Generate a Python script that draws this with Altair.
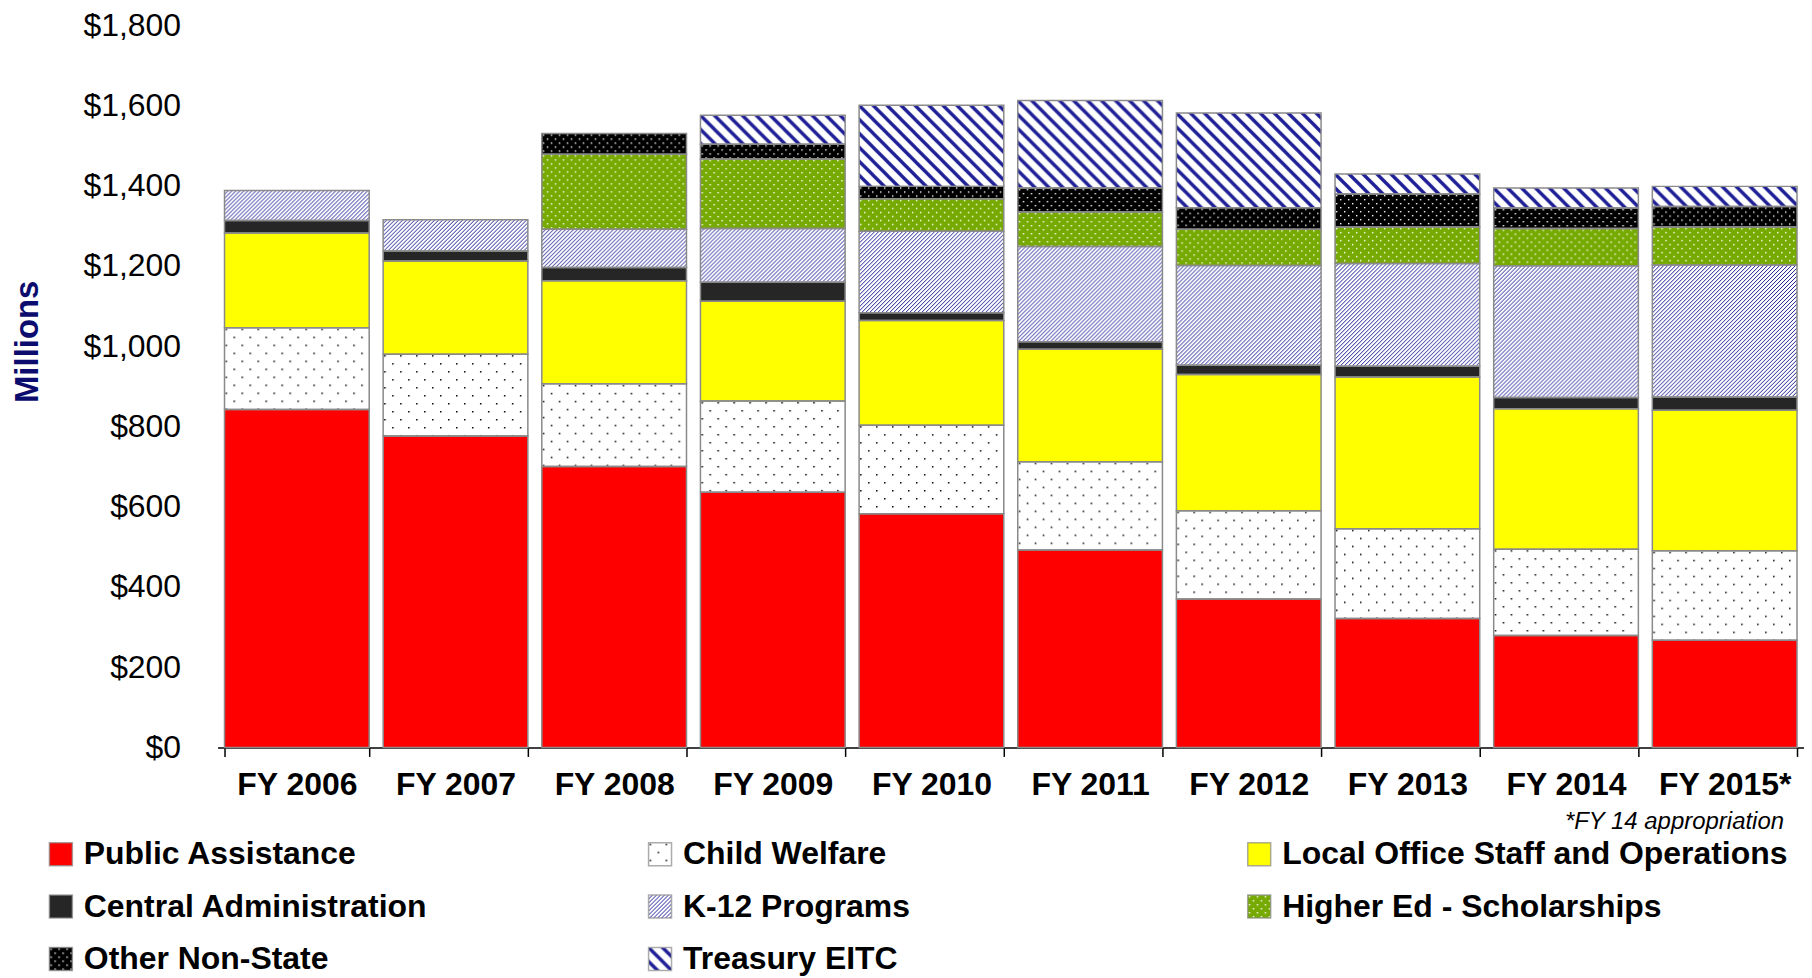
import base64
import altair as alt
import pandas as pd

# ---------------- data ----------------
YEARS = ["FY 2006", "FY 2007", "FY 2008", "FY 2009", "FY 2010",
         "FY 2011", "FY 2012", "FY 2013", "FY 2014", "FY 2015*"]

CATEGORIES = ["Public Assistance", "Child Welfare", "Local Office Staff and Operations",
              "Central Administration", "K-12 Programs", "Higher Ed - Scholarships",
              "Other Non-State", "Treasury EITC"]

PUBLIC_ASSISTANCE = [842, 776, 700, 636, 582, 492, 370, 321, 279, 267]
CHILD_WELFARE = [204, 204, 206, 227, 221, 220, 220, 224, 215, 223]
LOCAL_OFFICE = [236, 232, 257, 249, 261, 280, 339, 378, 350, 350]
CENTRAL_ADMIN = [31, 25, 33, 47, 19, 19, 23, 27, 28, 33]
K12_PROGRAMS = [75, 78, 95, 134, 203, 237, 249, 256, 328, 329]
HIGHER_ED = [0, 0, 187, 173, 81, 86, 90, 91, 93, 95]
OTHER_NON_STATE = [0, 0, 52, 37, 31, 60, 54, 82, 51, 51]
TREASURY_EITC = [0, 0, 0, 72, 202, 218, 236, 50, 50, 50]

SERIES = [PUBLIC_ASSISTANCE, CHILD_WELFARE, LOCAL_OFFICE, CENTRAL_ADMIN,
          K12_PROGRAMS, HIGHER_ED, OTHER_NON_STATE, TREASURY_EITC]

Y_TICKS = [0, 200, 400, 600, 800, 1000, 1200, 1400, 1600, 1800]
FOOTNOTE = "*FY 14 appropriation"
Y_TITLE = "Millions"

# ---------------- styles ----------------
FONT = "Liberation Sans"
NAVY = "#1E1E96"
BORDER = "#8A8A8A"
BASE_COLORS = ["#FF0000", "#FFFFFF", "#FFFF00", "#262626",
               "#FFFFFF", "#77AA00", "#000000", "#FFFFFF"]


def svg_pattern(body, w, h):
    svg = ("<svg xmlns='http://www.w3.org/2000/svg' width='100%' height='100%'>"
           f"<defs><pattern id='p' width='{w}' height='{h}' patternUnits='userSpaceOnUse'>"
           f"{body}</pattern></defs>"
           "<rect width='100%' height='100%' fill='url(#p)'/></svg>")
    return "data:image/svg+xml;base64," + base64.b64encode(svg.encode()).decode()


def dots(color, step, size):
    h = step / 2
    return svg_pattern(
        f"<rect x='1' y='1' width='{size}' height='{size}' fill='{color}'/>"
        f"<rect x='{1 + h}' y='{1 + h}' width='{size}' height='{size}' fill='{color}'/>",
        step, step)


def up_diag(color, p, sw):
    return svg_pattern(
        f"<path d='M-1,{p + 1} L{p + 1},-1 M-1,1 L1,-1 M{p - 1},{p + 1} L{p + 1},{p - 1}' "
        f"stroke='{color}' stroke-width='{sw}' fill='none' shape-rendering='crispEdges'/>", p, p)


def down_diag(color, p, sw):
    return svg_pattern(
        f"<path d='M-2,-2 L{p + 2},{p + 2} M{p - 2},-2 L{p + 2},2 M-2,{p - 2} L2,{p + 2}' "
        f"stroke='{color}' stroke-width='{sw}' fill='none'/>", p, p)


PATTERNS = {
    "Child Welfare": dots("#000000", 16, 1.5),
    "K-12 Programs": up_diag(NAVY, 4, 1),
    "Higher Ed - Scholarships": dots("#FFFFFF", 8, 1.4),
    "Other Non-State": dots("#FFFFFF", 8, 1.4),
    "Treasury EITC": down_diag(NAVY, 14, 3.4),
}

# ---------------- tables ----------------
rows = []
for ci, (cat, vals) in enumerate(zip(CATEGORIES, SERIES)):
    for yr, v in zip(YEARS, vals):
        rows.append({"year": yr, "category": cat, "order": ci, "value": v,
                     "pattern": PATTERNS.get(cat, "")})
df = pd.DataFrame(rows)

leg = pd.DataFrame({
    "category": CATEGORIES,
    "row": [i // 3 for i in range(len(CATEGORIES))],
    "col": [i % 3 for i in range(len(CATEGORIES))],
    "pattern": [PATTERNS.get(c, "") for c in CATEGORIES],
})

color_scale = alt.Scale(domain=CATEGORIES, range=BASE_COLORS)

# ---------------- main chart ----------------
x_enc = alt.X("year:N", sort=YEARS,
              scale=alt.Scale(paddingInner=0.088, paddingOuter=0.044),
              axis=alt.Axis(title=None, labelAngle=0, labelFont=FONT, labelFontSize=32,
                            labelFontWeight="bold", labelColor="black", labelPadding=13,
                            tickBand="extent", tickSize=9, tickColor="black", tickWidth=1.5,
                            domainColor="black", domainWidth=1.5))
y_enc = alt.Y("y0:Q", scale=alt.Scale(domain=[0, 1800], nice=False),
              axis=alt.Axis(title=Y_TITLE, values=Y_TICKS, format="$,.0f",
                            labelFont=FONT, labelFontSize=32, labelColor="black",
                            labelPadding=37, ticks=False, domain=False, grid=False,
                            titleFont=FONT, titleFontSize=33, titleFontWeight="bold",
                            titleColor="#0C0C6E", titlePadding=38.5, titleY=317))

base = (alt.Chart(df)
        .transform_filter("datum.value > 0")
        .transform_stack(stack="value", groupby=["year"], as_=["y0", "y1"],
                         sort=[alt.SortField("order", order="ascending")]))

fills = base.mark_bar(strokeWidth=0).encode(
    x=x_enc, y=y_enc, y2="y1:Q",
    fill=alt.Fill("category:N", scale=color_scale, legend=None))
pats = base.transform_filter("datum.pattern != ''").mark_image(aspect=False).encode(
    x=x_enc, y=y_enc, y2="y1:Q", url="pattern:N")
borders = base.mark_bar(fillOpacity=0, stroke=BORDER, strokeWidth=1.5).encode(
    x=x_enc, y=y_enc, y2="y1:Q")

main = alt.layer(fills, pats, borders).properties(
    width=1590, height=724,
    title=alt.TitleParams(FOOTNOTE, orient="bottom", anchor="end", font=FONT,
                          fontSize=24, fontStyle="italic", fontWeight="normal",
                          color="black", dx=-20, offset=10))

# ---------------- legend chart ----------------
LEG_X0, LEG_STEP = -157, 600.5
LEG_Y0, LEG_ROW = 20, 52.5

lx = alt.X("col:Q", scale=alt.Scale(domain=[0, 2], range=[LEG_X0, LEG_X0 + 2 * LEG_STEP]), axis=None)
ly = alt.Y("row:Q", scale=alt.Scale(domain=[0, 2], range=[LEG_Y0, LEG_Y0 + 2 * LEG_ROW]), axis=None)

lbase = alt.Chart(leg)
sw_fill = lbase.mark_square(size=529, opacity=1, strokeWidth=0).encode(
    x=lx, y=ly, fill=alt.Fill("category:N", scale=color_scale, legend=None))
sw_pat = lbase.transform_filter("datum.pattern != ''").mark_image(
    width=23, height=23, aspect=False).encode(x=lx, y=ly, url="pattern:N")
sw_border = lbase.mark_square(size=529, filled=False, stroke=BORDER, strokeWidth=1.5).encode(
    x=lx, y=ly)
labels = lbase.mark_text(align="left", baseline="middle", dx=23, font=FONT, fontSize=32,
                         fontWeight="bold", color="black").encode(x=lx, y=ly, text="category:N")

legend = alt.layer(sw_fill, sw_pat, sw_border, labels).properties(
    width=1590, height=LEG_Y0 + 2 * LEG_ROW)

chart = (alt.vconcat(main, legend, spacing=0)
         .properties(padding={"left": 3, "top": 0, "right": 0, "bottom": 0})
         .configure_view(stroke=None))

chart.save("out.html", embed_options={"renderer": "svg", "actions": False})
